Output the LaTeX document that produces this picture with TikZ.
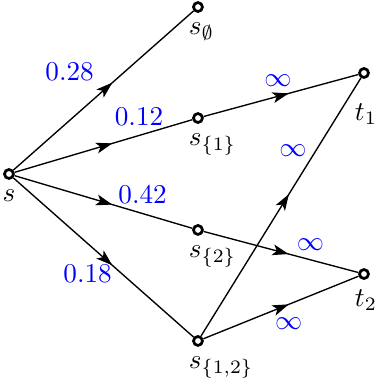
\documentclass[tikz,border=0pt]{standalone}
\usepackage{amsmath}
\usepackage{amssymb}
\usepackage{xcolor}
\usepackage{tikz}
\usetikzlibrary{arrows.meta, decorations.markings}

\begin{document}
\begin{tikzpicture}[
    line width=0.5pt,
    vertex/.style={circle, draw, line width=1pt, fill=white, inner sep=0pt, minimum size=3.3pt},
    vlabel/.style={anchor=north west, xshift=-6.9pt},
    edge/.style={postaction={decorate}, decoration={markings, mark=at position 0.55 with {\arrow{Stealth[length=6pt, width=4pt, inset=1.5pt]}}}},
    weight/.style={text=blue}
]
\useasboundingbox (-0.116,-2.665) rectangle (4.787,2.251);

% Vertices
\node[vertex, label=below:$s$] (s) at (0,0) {};
\node[vertex, label={[vlabel]below:$s_{\emptyset}$}] (sempty) at (2.445,2.160) {};
\node[vertex, label={[vlabel]below:$s_{\{1\}}$}] (sone) at (2.445,0.724) {};
\node[vertex, label={[vlabel]below:$s_{\{2\}}$}] (stwo) at (2.445,-0.724) {};
\node[vertex, label={[vlabel]below:$s_{\{1,2\}}$}] (sboth) at (2.445,-2.160) {};
\node[vertex, label={[vlabel, yshift=-5.5pt]below:$t_1$}] (tone) at (4.593,1.307) {};
\node[vertex, label={[vlabel]below:$t_2$}] (ttwo) at (4.593,-1.294) {};

% Edges out of s
\draw[edge] (s) -- node[weight, above left] {$0.28$} (sempty);
\draw[edge] (s) -- node[weight, pos=0.7, above] {$0.12$} (sone);
\draw[edge] (s) -- node[weight, pos=0.72, above] {$0.42$} (stwo);
\draw[edge] (s) -- node[weight, pos=0.6, left] {$0.18$} (sboth);

% Edges into t1 and t2
\draw[edge] (sone) -- node[weight, pos=0.48, above] {$\infty$} (tone);
\draw[edge] (sboth) -- node[weight, pos=0.72, left] {$\infty$} (tone);
\draw[edge] (stwo) -- node[weight, pos=0.69, above] {$\infty$} (ttwo);
\draw[edge] (sboth) -- node[weight, pos=0.55, below, yshift=-1.5pt] {$\infty$} (ttwo);

\end{tikzpicture}
\end{document}
